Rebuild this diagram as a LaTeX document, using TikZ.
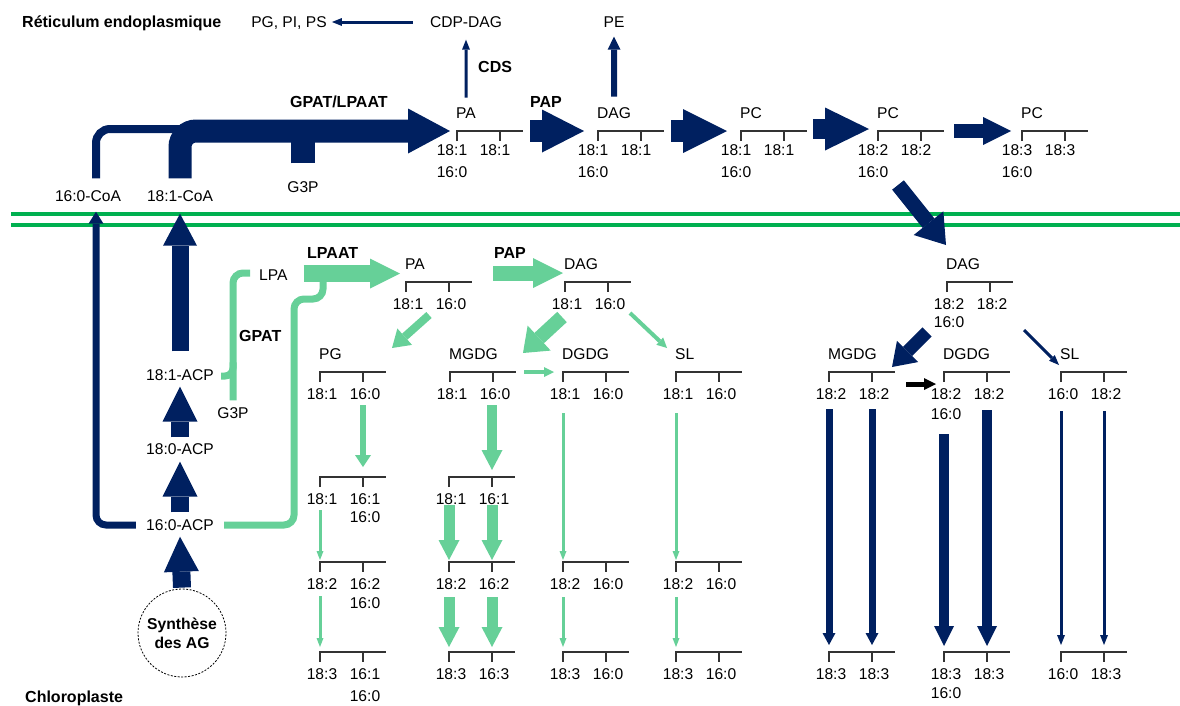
\documentclass[tikz,border=0pt]{standalone}
\usepackage{fontspec}
\setmainfont{Liberation Sans}
\usepackage{tikz}
\usetikzlibrary{arrows.meta,positioning,calc}
\definecolor{navy}{RGB}{0,32,96}
\definecolor{mgreen}{RGB}{0,176,80}
\definecolor{lgreen}{RGB}{102,208,152}

\begin{document}
\begin{tikzpicture}%
                [x=1pt, y=-1pt,
                every node/.style={font=\fontsize{15.6}{19}\selectfont, inner sep=0pt, text height=11pt, text depth=0pt},
                enz/.style={font=\fontsize{16}{19}\selectfont\bfseries},
                bracket/.style={draw=black!80, line width=1.3pt},
                membrane/.style={draw=mgreen, line width=4pt},
                nflow/.style n args={3}{draw=navy, line width=#1, -{Triangle[width=#2, length=#3, line width=0pt]}},
                gflow/.style n args={3}{draw=lgreen, line width=#1, -{Triangle[width=#2, length=#3, line width=0pt]}},
                nthin/.style={nflow={3pt}{8pt}{10pt}},
                gthin/.style={gflow={3pt}{7pt}{9pt}},
                gfat/.style={gflow={11pt}{21pt}{20pt}}]

            \useasboundingbox (0,0) rectangle (1180,705);

            %% Membranes
            \draw[membrane] (11,214) -- (1180,214);
            \draw[membrane] (11,225) -- (1180,225);

            %% Lipid brackets, reticulum
            \foreach \n/\x/\y/\a/\b in {erpa/457/131/18:1/18:1, erdag/598/131/18:1/18:1,
                erpca/741/131/18:1/18:1, erpcb/878/131/18:2/18:2, erpcc/1022/131/18:3/18:3}
            {
              \draw[bracket] (\x,\y+10) -- (\x,\y) -- (\x+66,\y) (\x+43,\y) -- (\x+43,\y+10);
              \coordinate (\n) at (\x,\y);
              \coordinate (\n-2) at (\x+43,\y);
              \node (\n-a) at (\x-5,\y+19) {\a};
              \node (\n-b) at (\x+38,\y+19) {\b};
            }
            %% Lipid brackets, chloroplast
            \foreach \n/\x/\y/\a/\b in {cpa/406/282/18:1/16:0, cdag/565/282/18:1/16:0,
                cpg/320/372/18:1/16:0, cmgdg/450/372/18:1/16:0, cdgdg/563/372/18:1/16:0, csl/676/372/18:1/16:0,
                cpgb/320/477/18:1/16:1, cmgdgb/449/477/18:1/16:1,
                cpgc/320/562/18:2/16:2, cmgdgc/449/562/18:2/16:2, cdgdgc/563/562/18:2/16:0, cslc/676/562/18:2/16:0,
                cpgd/320/652/18:3/16:1, cmgdgd/449/652/18:3/16:3, cdgdgd/563/652/18:3/16:0, csld/676/652/18:3/16:0,
                rdag/947/282/18:2/18:2, rmgdg/829/372/18:2/18:2, rdgdg/944/372/18:2/18:2, rsl/1061/372/16:0/18:2,
                rmgdgd/829/652/18:3/18:3, rdgdgd/944/652/18:3/18:3, rsld/1061/652/16:0/18:3}
            {
              \draw[bracket] (\x,\y+10) -- (\x,\y) -- (\x+66,\y) (\x+43,\y) -- (\x+43,\y+10);
              \coordinate (\n) at (\x,\y);
              \coordinate (\n-2) at (\x+43,\y);
              \node (\n-a) at (\x+2,\y+22) {\a};
              \node (\n-b) at (\x+45,\y+22) {\b};
            }
            %% Lipid names
            \foreach \n/\t in {erpa/PA, erdag/DAG, erpca/PC, erpcb/PC, erpcc/PC, cpa/PA, cdag/DAG,
                cpg/PG, cmgdg/MGDG, cdgdg/DGDG, csl/SL, rdag/DAG, rmgdg/MGDG, rdgdg/DGDG, rsl/SL}
              \node[above right=12pt and -1pt of \n] (\n-t) {\t};
            %% Second chains
            \foreach \n in {erpa, erdag, erpca, erpcb, erpcc}
              \node[below=11pt of \n-a] (\n-c) {16:0};
            \node[below=7pt of cpgb-b] (cpgb-c) {16:0};
            \node[below=8pt of cpgc-b] (cpgc-c) {16:0};
            \node[below=11pt of cpgd-b] (cpgd-c) {16:0};
            \node[below=7pt of rdag-a] (rdag-c) {16:0};
            \node[below=9pt of rdgdg-a] (rdgdg-c) {16:0};
            \node[below=8pt of rdgdgd-a] (rdgdgd-c) {16:0};

            %% Other labels
            \node[enz, anchor=west] (er) at (22,22) {Réticulum endoplasmique};
            \node (pgpips) at (289,22) {PG, PI, PS};
            \node (cdp) at (466,22) {CDP-DAG};
            \node (pe) at (614,22) {PE};
            \node[enz, anchor=west] (cds) at (478,67) {CDS};
            \node[enz, anchor=west] (gpatlpaat) at (290,102) {GPAT/LPAAT};
            \node[enz, anchor=west] (papa) at (530,102) {PAP};
            \node (coa160) at (88,196) {16:0-CoA};
            \node (coa181) at (180,196) {18:1-CoA};
            \node (g3pa) at (303,187) {G3P};
            \node[enz, anchor=west] (lpaat) at (307,253) {LPAAT};
            \node[enz, anchor=west] (papb) at (494,253) {PAP};
            \node[anchor=west] (lpa) at (259,275) {LPA};
            \node[enz, anchor=west] (gpat) at (239,336) {GPAT};
            \node (g3pb) at (233,413) {G3P};
            \node (acp181) at (180,375) {18:1-ACP};
            \node (acp180) at (180,449) {18:0-ACP};
            \node (acp160) at (180,525) {16:0-ACP};
            \node[enz, draw, circle, dash pattern=on 2pt off 1.5pt, line width=0.8pt, minimum size=88pt,
                  align=center, text height={}, text depth={}, font=\fontsize{15.7}{19}\selectfont\bfseries]
                  (synth) at (182,633) {Synthèse\\des AG};
            \node[enz, anchor=west] (chloro) at (25,697) {Chloroplaste};

            %% Reticulum pathway
            \draw[navy, line width=8pt, rounded corners=14pt] ($(coa160.north)+(8,-12)$) |- (200,129);
            \draw[navy, line width=24pt] ($(g3pa.north)+(0,-18)$) -- ++(0,-30);
            \draw[nflow={23pt}{45pt}{42pt}, rounded corners=16pt] ($(coa181.north)+(0,-12)$) |- ($(erpa)+(-7,0)$);
            \draw[nthin] ($(cdp.west)+(-17,0)$) -- ($(pgpips.east)+(5,0)$);
            \draw[nthin] ($(erpa-t.north)+(0,-10)$) -- ($(cdp.south)+(0,12)$);
            \draw[nflow={6pt}{13pt}{13pt}] ($(erdag-t.north)+(0,-11)$) -- ($(pe.south)+(0,9)$);
            \draw[nflow={22pt}{43pt}{42pt}] ($(erpa)+(73,0)$) -- ($(erdag)+(-14,0)$);
            \draw[nflow={22pt}{44pt}{44pt}] ($(erdag)+(73,0)$) -- ($(erpca)+(-14,0)$);
            \draw[nflow={20pt}{43pt}{44pt}] ($(erpca)+(72,-2)$) -- ($(erpcb)+(-9,-2)$);
            \draw[nflow={14pt}{28pt}{28pt}] ($(erpcb)+(76,0)$) -- ($(erpcc)+(-11,0)$);
            \draw[nflow={15pt}{38pt}{28pt}] ($(erpcb)+(20,54)$) -- ($(rdag)+(-1,-37)$);

            %% Fatty acid synthesis
            \draw[nflow={7pt}{15pt}{12pt}, rounded corners=10pt] ($(acp160.west)+(-10,0)$) -| ($(coa160.south)+(8,10)$);
            \draw[nflow={17pt}{34pt}{32pt}] ($(acp181.north)+(0,-18)$) -- ($(coa181.south)+(0,12)$);
            \draw[nflow={18pt}{35pt}{35pt}] ($(acp180.north)+(0,-6)$) -- ($(acp181.south)+(0,6)$);
            \draw[nflow={18pt}{35pt}{35pt}] ($(acp160.north)+(0,-7)$) -- ($(acp180.south)+(0,7)$);
            \draw[nflow={18pt}{35pt}{35pt}] ($(synth.north)+(0,-1)$) -- ($(acp160.south)+(0,6)$);

            %% Chloroplast pathway
            \draw[lgreen, line width=7pt, rounded corners=10pt] ($(lpa.west)+(-9,-2)$) -| ($(g3pb.north)+(0,-7)$);
            \draw[lgreen, line width=7pt, rounded corners=8pt] ($(acp181.east)+(7,1)$) -| ($(g3pb.north)+(0,-45)$);
            \draw[lgreen, line width=7pt, rounded corners=10pt] ($(acp160.east)+(10,0)$) -| ++(70,-226) -| ++(29,-23);
            \draw[gflow={17pt}{30pt}{30pt}] ($(lpa.east)+(16,-1.5)$) -- ($(cpa)+(-6,-8.5)$);
            \draw[gflow={15pt}{30pt}{30pt}] ($(cpa)+(87,-9)$) -- ($(cdag)+(-2,-9)$);
            \draw[gflow={8pt}{22pt}{17pt}] ($(cpa)+(23,33)$) -- ($(cpg)+(72,-24)$);
            \draw[gflow={14pt}{34pt}{22pt}] ($(cdag)+(-3,35)$) -- ($(cmgdg)+(73,-19)$);
            \draw[gflow={4pt}{10pt}{10pt}] ($(cdag)+(65,31)$) -- ($(csl)+(-9,-24)$);
            \draw[gflow={4pt}{10pt}{10pt}] ($(cmgdg)+(74,0)$) -- ($(cdgdg)+(-9,0)$);
            \draw[gflow={6pt}{16pt}{12pt}, shorten <=11pt, shorten >=10pt] (cpg-2 |- cpg-b) -- (cpgb-2);
            \draw[gthin, shorten <=11pt, shorten >=2pt] (cpgb |- cpgb-a) -- (cpgc);
            \draw[gthin, shorten <=12pt, shorten >=5pt] (cpgc |- cpgc-a) -- (cpgd);
            \draw[gflow={10pt}{21pt}{20pt}, shorten <=11pt, shorten >=7pt] (cmgdgb-2 |- cmgdg-b) -- (cmgdgb-2);
            \draw[gfat, shorten <=6pt, shorten >=2pt] (cmgdgb |- cmgdgb-a) -- (cmgdgc);
            \draw[gfat, shorten <=6pt, shorten >=2pt] (cmgdgb-2 |- cmgdgb-b) -- (cmgdgc-2);
            \draw[gfat, shorten <=13pt, shorten >=5pt] (cmgdgc |- cmgdgc-a) -- (cmgdgd);
            \draw[gfat, shorten <=13pt, shorten >=5pt] (cmgdgc-2 |- cmgdgc-b) -- (cmgdgd-2);
            \draw[gthin, shorten <=19pt, shorten >=2pt] (cdgdgc |- cdgdg-a) -- (cdgdgc);
            \draw[gthin, shorten <=13pt, shorten >=5pt] (cdgdgc |- cdgdgc-a) -- (cdgdgd);
            \draw[gthin, shorten <=19pt, shorten >=2pt] (cslc |- csl-a) -- (cslc);
            \draw[gthin, shorten <=13pt, shorten >=5pt] (cslc |- cslc-a) -- (csld);

            %% Eukaryotic galactolipids
            \draw[nflow={13pt}{30pt}{22pt}] ($(rdag)+(-20,50)$) -- ($(rmgdg)+(63,-5)$);
            \draw[nthin] ($(rdag)+(77,48)$) -- ($(rsl)+(-2,-7)$);
            \draw[black, line width=5pt, -{Triangle[width=12pt, length=12pt, line width=0pt]}] ($(rmgdg)+(77,12)$) -- ($(rdgdg)+(-8,12)$);
            \draw[nflow={7pt}{13pt}{12pt}, shorten <=15pt, shorten >=7pt] (rmgdg |- rmgdg-a) -- (rmgdgd);
            \draw[nflow={7pt}{13pt}{12pt}, shorten <=15pt, shorten >=7pt] (rmgdg-2 |- rmgdg-b) -- (rmgdgd-2);
            \draw[nflow={10pt}{20pt}{20pt}, shorten <=20pt, shorten >=6pt] (rdgdg |- rdgdg-c) -- (rdgdgd);
            \draw[nflow={10pt}{20pt}{20pt}, shorten <=16pt, shorten >=6pt] (rdgdg-2 |- rdgdg-b) -- (rdgdgd-2);
            \draw[nthin, shorten <=17pt, shorten >=7pt] (rsl |- rsl-a) -- (rsld);
            \draw[nthin, shorten <=17pt, shorten >=7pt] (rsl-2 |- rsl-b) -- (rsld-2);
\end{tikzpicture}
\end{document}
